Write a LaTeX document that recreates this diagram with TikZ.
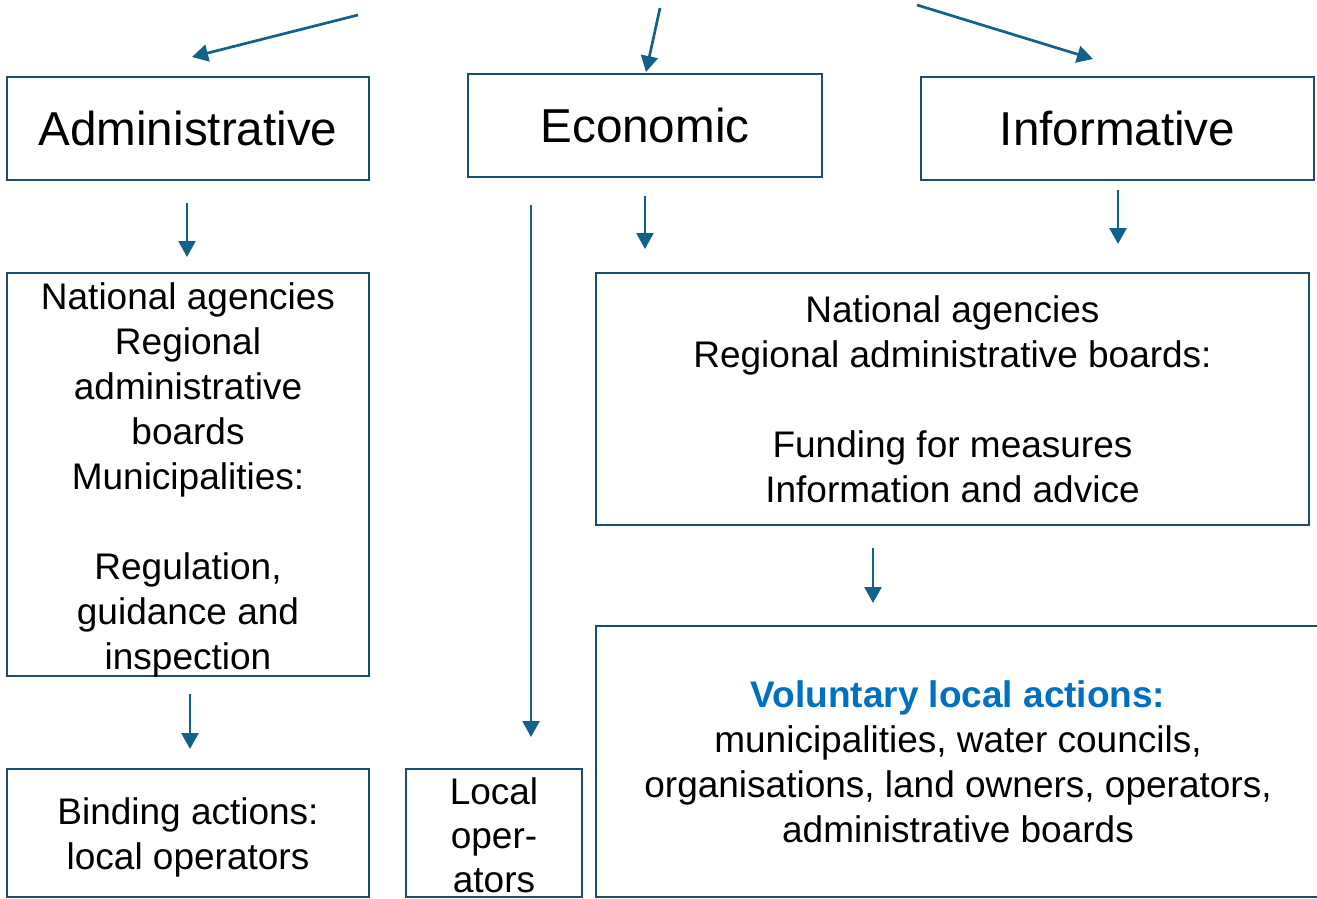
\documentclass[tikz,border=0pt]{standalone}
\usepackage{fontspec}
\setmainfont{Liberation Sans}
\usetikzlibrary{arrows.meta}
\definecolor{frame}{HTML}{1A4E6C}
\definecolor{arrowc}{HTML}{12618A}
\definecolor{headblue}{HTML}{0070C0}
\tikzset{
  box/.style={draw=frame, line width=2.6pt, inner sep=0pt, align=center, font=\fontsize{37}{45}\selectfont},
  title/.style={box, font=\fontsize{47.6}{56}\selectfont},
  txt/.style={inner sep=0pt, align=center, font=\fontsize{37}{44}\selectfont},
  link/.style={-{Triangle[length=16pt,width=17pt]}, draw=arrowc, line width=2.7pt},
}

\begin{document}
\begin{tikzpicture}[x=1pt, y=-1pt]
	\useasboundingbox (0,0) rectangle (1317,898);
	\clip (0,0) rectangle (1317,898);
	\node[title, minimum width=362pt, minimum height=103pt] (adm) at (188,128.5) {Administrative};
	\node[title, minimum width=354pt, minimum height=103pt] (eco) at (645,125.5) {Economic};
	\node[title, minimum width=393pt, minimum height=103pt] (inf) at (1117.5,128.5) {Informative};
	\node[box, minimum width=362pt, minimum height=403pt] (admbody) at (188,474.5) {};
	\node[txt, font=\fontsize{37}{45}\selectfont] (admtext) at (188,479.5)
		{National agencies\\Regional\\administrative\\boards\\Municipalities:\\[45pt]Regulation,\\guidance and\\inspection};
	\node[box, minimum width=713pt, minimum height=252pt] (ecobody) at (952.5,399)
		{National agencies\\Regional administrative boards:\\[45pt]Funding for measures\\Information and advice};
	\node[box, minimum width=724pt, minimum height=271pt] (vol) at (958,761.5)
		{\textcolor{headblue}{\bfseries Voluntary local actions:}\\municipalities, water councils,\\organisations, land owners, operators,\\administrative boards};
	\node[box, minimum width=362pt, minimum height=128pt] (bind) at (188,833) {};
	\node[txt, font=\fontsize{37}{45}\selectfont] (bindtext) at (188,837) {Binding actions:\\local operators};
	\node[box, minimum width=176pt, minimum height=128pt] (loc) at (494,833) {};
	\node[txt] (loctext) at (494,835) {Local\\oper-\\ators};
	\coordinate (topa) at (358,15);
	\coordinate (topb) at (660,8);
	\coordinate (topc) at (917,5);
	\coordinate (admin) at (192,57);
	\coordinate (ecoin) at (646,72);
	\coordinate (infin) at (1093,59);
	\draw[link] (topa) -- (admin);
	\draw[link] (topb) -- (ecoin);
	\draw[link] (topc) -- (infin);
	\coordinate (a1) at (187,203);
	\coordinate (a2) at (187,257);
	\coordinate (b1) at (531,205);
	\coordinate (b2) at (531,737);
	\coordinate (c1) at (645,196);
	\coordinate (c2) at (645,249);
	\coordinate (d1) at (1118,190);
	\coordinate (d2) at (1118,244);
	\coordinate (e1) at (873,548);
	\coordinate (e2) at (873,603);
	\coordinate (f1) at (190,694);
	\coordinate (f2) at (190,749);
	\draw[link] (a1) -- (a2);
	\draw[link] (b1) -- (b2);
	\draw[link] (c1) -- (c2);
	\draw[link] (d1) -- (d2);
	\draw[link] (e1) -- (e2);
	\draw[link] (f1) -- (f2);
\end{tikzpicture}
\end{document}
